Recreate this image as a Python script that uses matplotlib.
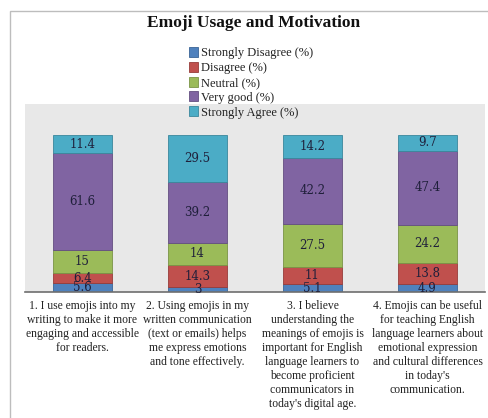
import matplotlib
matplotlib.use("Agg")
import matplotlib.pyplot as plt
from matplotlib.patches import Rectangle
import numpy as np

categories = [
    "1. I use emojis into my\nwriting to make it more\nengaging and accessible\nfor readers.",
    "2. Using emojis in my\nwritten communication\n(text or emails) helps\nme express emotions\nand tone effectively.",
    "3. I believe\nunderstanding the\nmeanings of emojis is\nimportant for English\nlanguage learners to\nbecome proficient\ncommunicators in\ntoday's digital age.",
    "4. Emojis can be useful\nfor teaching English\nlanguage learners about\nemotional expression\nand cultural differences\nin today's\ncommunication.",
]
series_names = ["Strongly Disagree (%)", "Disagree (%)", "Neutral (%)", "Very good (%)", "Strongly Agree (%)"]
strongly_disagree = [5.6, 3, 5.1, 4.9]
disagree = [6.4, 14.3, 11, 13.8]
neutral = [15, 14, 27.5, 24.2]
very_good = [61.6, 39.2, 42.2, 47.4]
strongly_agree = [11.4, 29.5, 14.2, 9.7]
series = [strongly_disagree, disagree, neutral, very_good, strongly_agree]
colors = ["#4F81BD", "#C0504D", "#9BBB59", "#8064A2", "#4BACC6"]
edges = ["#3a6496", "#973c3a", "#7a9446", "#634e80", "#3a879c"]

SERIF = "Liberation Serif"
W, H = 489, 418
fig = plt.figure(figsize=(W / 100, H / 100), dpi=100)
fig.patch.set_facecolor("white")

# outer chart frame
fig.add_artist(Rectangle((10 / W, -0.05), 1.1, 1 - 11 / H + 0.05, transform=fig.transFigure,
                         facecolor="none", edgecolor="#bdbdbd", linewidth=1.0))

ax = fig.add_axes([25 / W, 1 - 292 / H, 460 / W, 188 / H])
ax.set_facecolor("#e8e8e8")
x = np.arange(len(categories))
bottom = np.zeros(len(categories))
handles = []
for vals, c, ec, name in zip(series, colors, edges, series_names):
    vals = np.array(vals, dtype=float)
    b = ax.bar(x, vals, bottom=bottom, width=0.52, color=c, edgecolor=ec, linewidth=0.6, label=name)
    handles.append(b)
    for xi, v, bt in zip(x, vals, bottom):
        ax.text(xi, bt + v / 2, f"{v:g}", ha="center", va="center", fontsize=8.5,
                family="DejaVu Serif", color="#1f1f3a")
    bottom += vals

ax.set_xlim(-0.5, 3.5)
ax.set_ylim(0, 120)
ax.set_yticks([])
ax.set_xticks(x)
ax.set_xticklabels(categories, fontsize=8.4, family=SERIF, color="#222222", linespacing=1.22)
ax.tick_params(axis="x", length=0, pad=6)
for s in ["top", "right", "left"]:
    ax.spines[s].set_visible(False)
ax.spines["bottom"].set_color("#6e6e6e")
ax.spines["bottom"].set_linewidth(1.2)

fig.text(254 / W, 1 - 23 / H, "Emoji Usage and Motivation", ha="center", va="center",
         fontsize=12.5, fontweight="bold", family=SERIF, color="#111111")

leg = fig.legend(handles=handles, labels=series_names, loc="upper left",
                 bbox_to_anchor=(189 / W, 1 - 47 / H), frameon=False,
                 prop={"family": SERIF, "size": 9}, handlelength=0.75,
                 handleheight=0.85, handletextpad=0.25, labelspacing=0.2, borderpad=0,
                 borderaxespad=0)
for t in leg.get_texts():
    t.set_color("#222222")

fig.savefig("out.png", dpi=100)
